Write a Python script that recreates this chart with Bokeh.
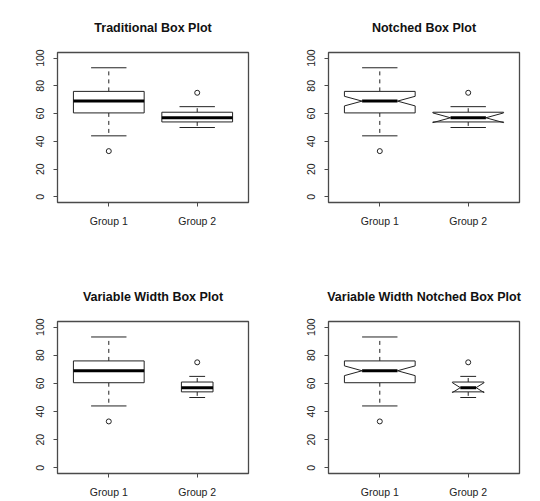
import math
from bokeh.plotting import figure
from bokeh.layouts import column, row
from bokeh.models import Range1d, FixedTicker
from bokeh.embed import file_html
from bokeh.resources import INLINE

# ---- data ----
groups = ["Group 1", "Group 2"]
positions = [1, 2]
lower_whisker = [44, 50]
q1 = [60.5, 54]
median = [69, 57]
q3 = [76, 61]
upper_whisker = [93, 65]
n_obs = [50, 10]
outlier_group = [1, 2]
outlier_value = [33, 75]
y_ticks = [0, 20, 40, 60, 80, 100]

FONT = "Liberation Sans"
LINE = "#222222"
FRAME = "#4a4a4a"
BOXWEX = 0.8


def make_panel(title, notch, varwidth, bl, br, bt, bb, w, h):
    p = figure(width=w, height=h, output_backend="svg", toolbar_location=None,
               x_range=Range1d(0.42, 2.58), y_range=Range1d(-4, 104),
               min_border_left=bl, min_border_right=br,
               min_border_top=bt, min_border_bottom=bb,
               title=title)
    p.title.text_font = FONT
    p.title.text_font_size = "12.5px"
    p.title.text_font_style = "bold"
    p.title.text_color = "#111111"
    p.title.align = "center"
    p.title.standoff = 36
    p.outline_line_color = FRAME
    p.outline_line_width = 1.3
    p.background_fill_color = "white"
    p.border_fill_color = "white"
    p.grid.visible = False

    # axes
    p.xaxis.ticker = FixedTicker(ticks=positions)
    p.xaxis.major_label_overrides = {pos: g for pos, g in zip(positions, groups)}
    p.xaxis.bounds = (1, 2)
    p.yaxis.ticker = FixedTicker(ticks=y_ticks)
    p.yaxis.bounds = (0, 100)
    p.yaxis.major_label_orientation = "vertical"
    for ax in (p.xaxis, p.yaxis):
        ax.axis_line_color = FRAME
        ax.major_tick_line_color = FRAME
        ax.minor_tick_line_color = None
        ax.major_tick_in = 0
        ax.major_tick_out = 4
        ax.major_label_text_font = FONT
        ax.major_label_text_font_size = "10.5px"
        ax.major_label_text_color = "#222222"
    p.xaxis.major_label_standoff = 8
    p.yaxis.major_label_standoff = 9

    # widths
    if varwidth:
        s = [math.sqrt(n) for n in n_obs]
        half = [BOXWEX / 2 * v / max(s) for v in s]
    else:
        half = [BOXWEX / 2 for _ in n_obs]

    for i, x in enumerate(positions):
        wid = half[i]
        # whiskers
        p.segment(x0=[x, x], y0=[q1[i], q3[i]], x1=[x, x],
                  y1=[lower_whisker[i], upper_whisker[i]],
                  line_color=LINE, line_width=1, line_dash="4 4")
        # staples
        p.segment(x0=[x - wid / 2] * 2, x1=[x + wid / 2] * 2,
                  y0=[lower_whisker[i], upper_whisker[i]],
                  y1=[lower_whisker[i], upper_whisker[i]],
                  line_color=LINE, line_width=1)
        if notch:
            conf = 1.58 * (q3[i] - q1[i]) / math.sqrt(n_obs[i])
            c_lo, c_hi = median[i] - conf, median[i] + conf
            xx = [x + wid * f for f in (-1, 1, 1, 0.5, 1, 1, -1, -1, -0.5, -1)]
            yy = [q1[i], q1[i], c_lo, median[i], c_hi, q3[i], q3[i], c_hi, median[i], c_lo]
            p.patch(xx, yy, fill_color="white", line_color=LINE, line_width=1)
            p.segment(x0=[x - wid * 0.5], x1=[x + wid * 0.5],
                      y0=[median[i]], y1=[median[i]],
                      line_color="black", line_width=3)
        else:
            p.quad(left=[x - wid], right=[x + wid], bottom=[q1[i]], top=[q3[i]],
                   fill_color="white", line_color=LINE, line_width=1)
            p.segment(x0=[x - wid], x1=[x + wid], y0=[median[i]], y1=[median[i]],
                      line_color="black", line_width=3)

    p.scatter(x=outlier_group, y=outlier_value, marker="circle", size=5,
              fill_color=None, line_color=LINE, line_width=1)
    return p


p1 = make_panel("Traditional Box Plot", False, False, 57, 22, 50, 48, 270, 250)
p2 = make_panel("Notched Box Plot", True, False, 58, 21, 50, 48, 270, 250)
p3 = make_panel("Variable Width Box Plot", False, True, 57, 22, 71, 28, 270, 251)
p4 = make_panel("Variable Width Notched Box Plot", True, True, 58, 21, 71, 28, 270, 251)

layout = column(row(p1, p2), row(p3, p4))

open("out.html", "w").write(file_html(layout, INLINE))
